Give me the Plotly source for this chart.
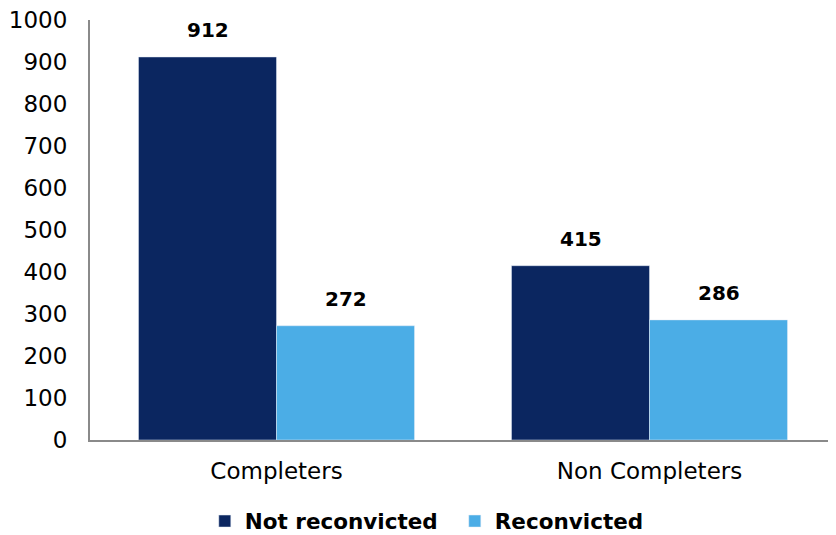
import plotly.graph_objects as go

categories = ["Completers", "Non Completers"]
not_reconvicted = [912, 415]
reconvicted = [272, 286]

FONT = "DejaVu Sans"
COLORS = ["#0B2660", "#4BADE6"]

fig = go.Figure()
fig.add_trace(go.Bar(name="Not reconvicted", x=categories, y=not_reconvicted,
                     marker_color=COLORS[0]))
fig.add_trace(go.Bar(name="Reconvicted", x=categories, y=reconvicted,
                     marker_color=COLORS[1]))

# value labels above the bars (grouped bar centres at category index -/+ 0.185)
for offset, series in ((-0.185, not_reconvicted), (0.185, reconvicted)):
    for i, v in enumerate(series):
        fig.add_annotation(x=i + offset, y=v, text=str(v), showarrow=False,
                           xref="x", yref="y", yanchor="bottom", yshift=13,
                           font=dict(size=20, color="black", family=FONT, weight="bold"))

fig.update_layout(
    width=836, height=535,
    margin=dict(l=82, r=8, t=12, b=103, autoexpand=False),
    barmode="group", bargap=0.26, bargroupgap=0,
    plot_bgcolor="white", paper_bgcolor="white",
    font=dict(family=FONT, size=23, color="black"),
    xaxis=dict(showline=True, linecolor="#8a8a8a", linewidth=2, showgrid=False,
               ticks="", tickfont=dict(size=23), ticklabelstandoff=9, automargin=False),
    yaxis=dict(range=[0, 1000], dtick=100, showline=True, linecolor="#8a8a8a", linewidth=2,
               showgrid=False, zeroline=False, ticks="", tickfont=dict(size=23),
               ticklabelstandoff=16, ticklabeloverflow="allow", automargin=False),
    legend=dict(orientation="h", x=0.489, xanchor="center", y=-0.193, yanchor="middle",
                font=dict(size=21.5, weight="bold"), itemwidth=30, traceorder="normal",
                entrywidth=205),
)
fig.write_html("out.html")
